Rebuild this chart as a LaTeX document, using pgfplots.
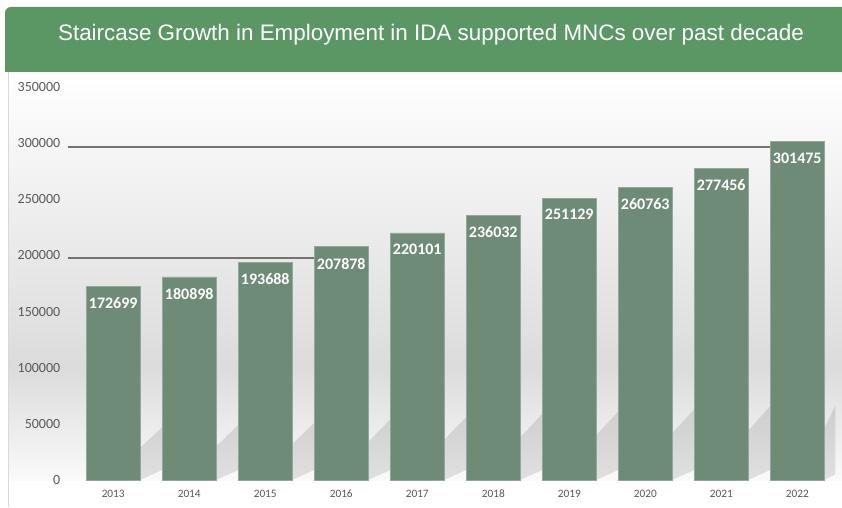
\documentclass[border=0pt]{standalone}
\usepackage{fontspec}
\setmainfont{Carlito}
\newfontfamily\titlefont{Liberation Sans}
\usepackage{pgfplots}
\pgfplotsset{compat=1.18}
\definecolor{hdr}{RGB}{91,151,101}
\definecolor{barc}{RGB}{110,139,119}
\definecolor{tickc}{RGB}{89,89,89}
\begin{document}
\begin{tikzpicture}[x=0.75pt,y=0.75pt]
\fill[white] (0,0) rectangle (842,507);
\shade[top color=white, bottom color=black!14] (8,140) rectangle (842,435);
\shade[top color=black!14, bottom color=black!2] (8,27) rectangle (842,140);
\fill[hdr] (842,435) -- (5,435) -- (5,494) arc[start angle=180, end angle=90, radius=6] -- (842,500) -- cycle;
\draw[black!15] (8,0) -- (8,435);
\node[white, font=\titlefont\fontsize{16.8}{19}\selectfont] at (431,472) {Staircase Growth in Employment in IDA supported MNCs over past decade};
\begin{axis}[
  at={(89,24)}, anchor=south west,
  scale only axis, width=575.7pt, height=294.75pt,
  xmin=-0.6, xmax=9.5, ymin=0, ymax=350000,
  axis line style={draw=none}, major tick length=0pt,
  clip=false,
  xtick={0,...,9},
  xticklabels={2013,2014,2015,2016,2017,2018,2019,2020,2021,2022},
  ytick={0,50000,...,350000},
  scaled y ticks=false,
  /pgf/number format/assume math mode=true,
  yticklabel style={/pgf/number format/fixed, /pgf/number format/1000 sep={}, font=\fontsize{10.5}{12}\selectfont, text=tickc, xshift=-2pt},
  xticklabel style={font=\fontsize{8.5}{10}\selectfont, text=tickc, yshift=-4pt},
]
% bar shadows
\addplot[fill=black, fill opacity=0.10, draw=none, forget plot] coordinates {(0.355,0) (0.645,9000) (0.645,47000) (0.355,29000)} -- cycle;
\addplot[fill=black, fill opacity=0.10, draw=none, forget plot] coordinates {(1.355,0) (1.645,9000) (1.645,49000) (1.355,30000)} -- cycle;
\addplot[fill=black, fill opacity=0.10, draw=none, forget plot] coordinates {(2.355,0) (2.645,9000) (2.645,51000) (2.355,32000)} -- cycle;
\addplot[fill=black, fill opacity=0.10, draw=none, forget plot] coordinates {(3.355,0) (3.645,9000) (3.645,54000) (3.355,34000)} -- cycle;
\addplot[fill=black, fill opacity=0.10, draw=none, forget plot] coordinates {(4.355,0) (4.645,9000) (4.645,56000) (4.355,36000)} -- cycle;
\addplot[fill=black, fill opacity=0.10, draw=none, forget plot] coordinates {(5.355,0) (5.645,9000) (5.645,59000) (5.355,38000)} -- cycle;
\addplot[fill=black, fill opacity=0.10, draw=none, forget plot] coordinates {(6.355,0) (6.645,9000) (6.645,61000) (6.355,40000)} -- cycle;
\addplot[fill=black, fill opacity=0.10, draw=none, forget plot] coordinates {(7.355,0) (7.645,9000) (7.645,63000) (7.355,42000)} -- cycle;
\addplot[fill=black, fill opacity=0.10, draw=none, forget plot] coordinates {(8.355,0) (8.645,9000) (8.645,66000) (8.355,44000)} -- cycle;
\addplot[fill=black, fill opacity=0.10, draw=none, forget plot] coordinates {(9.355,0) (9.5,5000) (9.5,66000) (9.355,46000)} -- cycle;
% reference lines
\addplot[black!55, line width=0.9pt] coordinates {(-0.6,197700) (3,197700)};
\addplot[black!55, line width=0.9pt] coordinates {(-0.6,296600) (9,296600)};
\addplot[ybar, bar width=0.71, fill=barc, draw=barc!75!white,
  point meta=explicit symbolic,
  nodes near coords,
  every node near coord/.append style={anchor=north, yshift=-5pt, text=white, font=\bfseries\fontsize{12}{14}\selectfont}]
  coordinates {
  (0,172699) [172699]
  (1,180898) [180898]
  (2,193688) [193688]
  (3,207878) [207878]
  (4,220101) [220101]
  (5,236032) [236032]
  (6,251129) [251129]
  (7,260763) [260763]
  (8,277456) [277456]
  (9,301475) [301475]
  };
\end{axis}
\end{tikzpicture}
\end{document}
